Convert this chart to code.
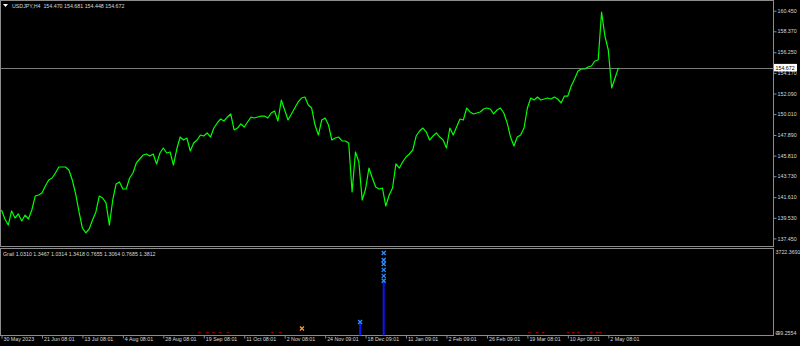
<!DOCTYPE html>
<html>
  <head>
    <style>
      body,
      html {
        margin: 0;
        padding: 0;
        background: #000;
        overflow: hidden;
      }
      svg {
        display: block;
      }
      text {
        font-family: "Liberation Sans", Arial, sans-serif;
      }
    </style>
  </head>
  <body>
    <script src="https://cdn.jsdelivr.net/npm/d3@7"></script>
    <script>
      const width = 800;
      const height = 346;

      // USDJPY H4 closes, one value every 8 bars
      const barStep = 8;
      const closes = [
        140.32, 139.41, 138.8, 140.22, 139.51, 139.92, 139.21, 139.81, 139.41, 140.32,
        141.73, 141.83, 142.04, 142.74, 143.35, 143.55, 144.06, 144.66, 144.66, 144.66,
        144.36, 143.35, 141.94, 140.12, 138.5, 138.0, 138.4, 139.31, 140.12, 141.73,
        141.53, 141.03, 138.8, 141.33, 142.95, 143.15, 142.44, 142.44, 143.55, 144.06,
        145.07, 145.47, 145.87, 145.98, 145.77, 145.98, 144.97, 146.08, 146.58, 146.08,
        146.18, 144.86, 146.48, 147.69, 147.39, 147.59, 146.28, 147.09, 147.39, 147.89,
        147.79, 148.1, 147.69, 148.6, 149.11, 149.51, 149.31, 149.71, 150.02, 148.4,
        148.6, 149.01, 148.7, 149.21, 149.71, 149.61, 149.71, 149.81, 149.81, 149.61,
        150.12, 150.32, 149.31, 151.43, 150.42, 149.41, 150.02, 150.62, 151.23, 151.63,
        151.73, 150.92, 150.62, 148.9, 147.89, 149.41, 149.61, 148.9, 147.39, 147.59,
        147.69, 147.29, 147.29, 147.09, 142.14, 146.18, 145.17, 141.33, 142.44, 144.56,
        143.55, 142.64, 142.44, 142.54, 140.72, 141.83, 142.54, 144.97, 144.56, 145.17,
        145.67, 145.98, 146.38, 147.79, 148.3, 148.6, 148.2, 147.39, 147.79, 148.1,
        147.69, 147.39, 146.58, 148.6, 147.89, 148.7, 149.51, 149.41, 150.62, 150.22,
        150.02, 150.12, 150.22, 150.52, 150.62, 150.52, 150.02, 150.42, 150.62, 150.12,
        149.11, 147.69, 146.78, 147.69, 147.89, 148.6, 150.62, 151.63, 151.43, 151.73,
        151.43, 151.53, 151.63, 151.53, 151.73, 151.53, 151.13, 151.83, 151.83, 152.84,
        153.55, 154.36, 154.56, 154.56, 154.76, 154.86, 155.37, 155.47, 160.3, 157.89,
        156.48, 152.64, 153.65, 154.672,
      ];
      const lastPrice = 154.672;
      const header = "USDJPY,H4  154.470 154.681 154.448 154.672";

      const priceTicks = [
        160.45, 158.37, 156.25, 154.17, 152.09, 150.01, 147.89, 145.81, 143.73,
        141.61, 139.53, 137.45,
      ];

      const barsPerDateTick = 96;
      const dateTicks = [
        "30 May 2023", "21 Jun 08:01", "13 Jul 08:01", "4 Aug 08:01",
        "28 Aug 08:01", "19 Sep 08:01", "11 Oct 08:01", "2 Nov 08:01",
        "24 Nov 09:01", "18 Dec 09:01", "11 Jan 09:01", "2 Feb 09:01",
        "26 Feb 09:01", "19 Mar 08:01", "10 Apr 08:01", "2 May 08:01",
      ];

      // Grail indicator window
      const grailLabel =
        "Grail 1.0310 1.3467 1.0314 1.3418 0.7655 1.3064 0.7685 1.3812";
      const grailMax = 3722.3691;
      const grailMin = -99.2554;
      const histBars = [851, 907];
      const histValues = [472, 2317];
      const blueMarkBars = [851, 907, 907, 907, 907, 907, 907];
      const blueMarkValues = [494, 3546, 3239, 3063, 2800, 2536, 2317];
      const orangeMarkBars = [713];
      const orangeMarkValues = [208];
      const redDashBars = [
        469, 488, 502, 518, 537, 642, 661, 1252, 1271, 1285, 1344, 1356, 1368,
        1399, 1413, 1420,
      ];
      const redDashValue = 40;

      const axisX = 773.5;
      const mainBottom = 246.5;
      const subTop = 248;
      const subBottom = 335.5;
      const gridColor = "#8c8c8c";
      const textColor = "#d8d8d8";
      const fs = "5.3px";

      const svg = d3
        .select("body")
        .append("svg")
        .attr("width", width)
        .attr("height", height)
        .style("background", "#000");

      const x = d3
        .scaleLinear()
        .domain([0, barsPerDateTick * 15])
        .range([1.5, 608.3]);

      const y = d3
        .scaleLinear()
        .domain([137.45, 160.45])
        .range([238.4, 10.7]);

      const ySub = d3
        .scaleLinear()
        .domain([grailMin, grailMax])
        .range([subBottom, subTop + 1]);

      // frames
      svg
        .append("rect")
        .attr("x", 0.5)
        .attr("y", 0.5)
        .attr("width", axisX - 0.5)
        .attr("height", mainBottom - 0.5)
        .attr("fill", "none")
        .attr("stroke", gridColor);
      svg
        .append("rect")
        .attr("x", 0.5)
        .attr("y", subTop + 0.5)
        .attr("width", axisX - 0.5)
        .attr("height", subBottom - subTop - 0.5)
        .attr("fill", "none")
        .attr("stroke", gridColor);

      // current price line
      svg
        .append("line")
        .attr("x1", 1)
        .attr("x2", axisX)
        .attr("y1", Math.round(y(lastPrice)) + 0.5)
        .attr("y2", Math.round(y(lastPrice)) + 0.5)
        .attr("stroke", "#7a7a7a")
        .attr("stroke-width", 1);

      // price line
      const line = d3
        .line()
        .x((d, i) => x(i * barStep))
        .y((d) => y(d));

      svg
        .append("path")
        .datum(closes)
        .attr("d", line)
        .attr("fill", "none")
        .attr("stroke", "#00ff00")
        .attr("stroke-width", 1.2)
        .attr("stroke-linejoin", "round");

      // price axis
      const yAxis = d3
        .axisRight(y)
        .tickValues(priceTicks)
        .tickFormat(d3.format(".3f"))
        .tickSize(3)
        .tickPadding(1);

      const gy = svg
        .append("g")
        .attr("transform", `translate(${axisX},0)`)
        .call(yAxis);
      gy.select(".domain").remove();
      gy.selectAll("line").attr("stroke", gridColor);
      gy.selectAll("text")
        .attr("fill", textColor)
        .style("font-size", fs)
        .style("font-family", "Liberation Sans");

      // current price box
      const yl = y(lastPrice);
      svg
        .append("rect")
        .attr("x", axisX + 0.5)
        .attr("y", yl - 4)
        .attr("width", 23)
        .attr("height", 7.5)
        .attr("fill", "#fff");
      svg
        .append("text")
        .attr("x", axisX + 2)
        .attr("y", yl)
        .attr("dy", "0.35em")
        .attr("fill", "#000")
        .style("font-size", fs)
        .text(d3.format(".3f")(lastPrice));

      // header
      svg
        .append("path")
        .attr("d", "M3,4 L8,4 L5.5,7 Z")
        .attr("fill", "#fff");
      svg
        .append("text")
        .attr("x", 12)
        .attr("y", 8)
        .attr("fill", textColor)
        .style("font-size", fs)
        .style("white-space", "pre")
        .attr("xml:space", "preserve")
        .text(header);

      // sub window axis labels
      svg
        .append("text")
        .attr("x", axisX + 2)
        .attr("y", subTop + 5.5)
        .attr("fill", textColor)
        .style("font-size", fs)
        .text(grailMax.toFixed(4));
      svg
        .append("text")
        .attr("x", axisX + 2)
        .attr("y", subBottom - 0.5)
        .attr("fill", textColor)
        .style("font-size", fs)
        .text(grailMin.toFixed(4));
      svg
        .append("text")
        .attr("x", axisX + 2)
        .attr("y", subBottom - 0.5)
        .attr("fill", textColor)
        .style("font-size", fs)
        .text("0");

      svg
        .append("text")
        .attr("x", 3)
        .attr("y", subTop + 8)
        .attr("fill", textColor)
        .style("font-size", fs)
        .text(grailLabel);

      // histogram
      svg
        .selectAll(".hist")
        .data(histBars)
        .enter()
        .append("line")
        .attr("class", "hist")
        .attr("x1", (d) => x(d))
        .attr("x2", (d) => x(d))
        .attr("y1", subBottom)
        .attr("y2", (d, i) => ySub(histValues[i]))
        .attr("stroke", "#0a14ff")
        .attr("stroke-width", 2);

      function cross(sel, color) {
        sel
          .append("path")
          .attr("d", "M-2,-2 L2,2 M-2,2 L2,-2")
          .attr("stroke", color)
          .attr("stroke-width", 1.3)
          .attr("fill", "none");
      }

      const blue = svg
        .selectAll(".bmark")
        .data(blueMarkBars)
        .enter()
        .append("g")
        .attr("class", "bmark")
        .attr(
          "transform",
          (d, i) => `translate(${x(d)},${ySub(blueMarkValues[i])})`
        );
      cross(blue, "#2f8fff");

      const orange = svg
        .selectAll(".omark")
        .data(orangeMarkBars)
        .enter()
        .append("g")
        .attr("class", "omark")
        .attr(
          "transform",
          (d, i) => `translate(${x(d)},${ySub(orangeMarkValues[i])})`
        );
      cross(orange, "#ff9a1a");

      svg
        .selectAll(".rdash")
        .data(redDashBars)
        .enter()
        .append("rect")
        .attr("class", "rdash")
        .attr("x", (d) => x(d) - 1)
        .attr("y", ySub(redDashValue) - 0.5)
        .attr("width", 2.5)
        .attr("height", 1)
        .attr("fill", "#b00000");

      // time axis
      const xAxis = d3
        .axisBottom(x)
        .tickValues(d3.range(dateTicks.length).map((i) => i * barsPerDateTick))
        .tickFormat((d) => dateTicks[d / barsPerDateTick])
        .tickSize(3)
        .tickPadding(1);

      const gx = svg
        .append("g")
        .attr("transform", `translate(0,${subBottom})`)
        .call(xAxis);
      gx.select(".domain").remove();
      gx.selectAll("line").attr("stroke", gridColor);
      gx.selectAll("text")
        .attr("fill", textColor)
        .attr("text-anchor", "start")
        .attr("x", 1.5)
        .attr("y", 1.5)
        .style("font-size", fs)
        .style("font-family", "Liberation Sans");
    </script>
  </body>
</html>
